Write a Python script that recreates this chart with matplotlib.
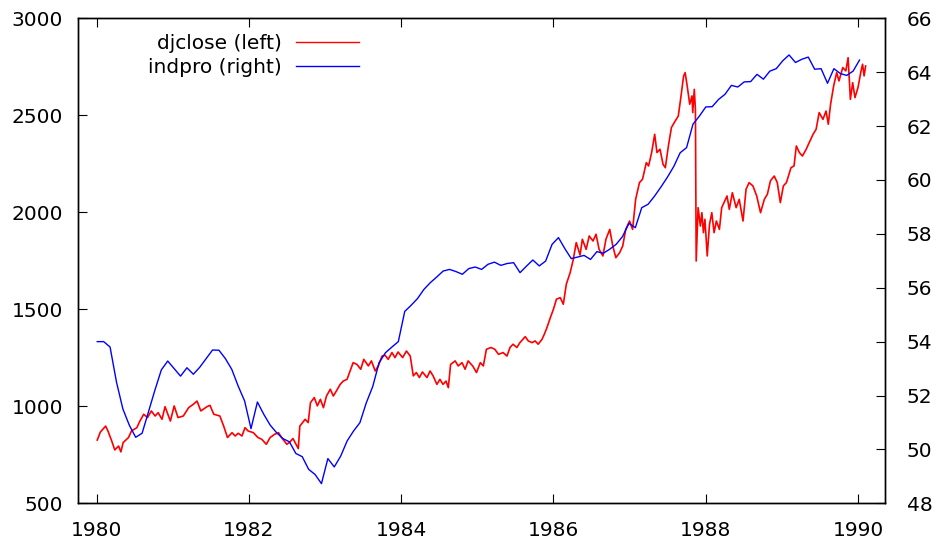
import matplotlib
matplotlib.use('Agg')
import matplotlib.pyplot as plt
import numpy as np

# ---- data ----
dj_year = [
    1980.01, 1980.05, 1980.12, 1980.15, 1980.20, 1980.24, 1980.29, 1980.32, 1980.35, 1980.42,
    1980.46, 1980.53, 1980.57, 1980.62, 1980.67, 1980.72, 1980.77, 1980.81, 1980.86, 1980.90,
    1980.97, 1981.02, 1981.07, 1981.14, 1981.21, 1981.27, 1981.32, 1981.37, 1981.45, 1981.49,
    1981.54, 1981.62, 1981.67, 1981.72, 1981.78, 1981.82, 1981.86, 1981.91, 1981.95, 1981.99,
    1982.06, 1982.12, 1982.17, 1982.23, 1982.28, 1982.34, 1982.39, 1982.43, 1982.50, 1982.54,
    1982.58, 1982.65, 1982.67, 1982.74, 1982.78, 1982.81, 1982.86, 1982.90, 1982.94, 1982.98,
    1983.02, 1983.07, 1983.11, 1983.15, 1983.20, 1983.24, 1983.29, 1983.33, 1983.37, 1983.42,
    1983.47, 1983.51, 1983.57, 1983.61, 1983.66, 1983.70, 1983.75, 1983.79, 1983.83, 1983.88,
    1983.92, 1983.96, 1984.02, 1984.07, 1984.12, 1984.16, 1984.20, 1984.24, 1984.28, 1984.34,
    1984.38, 1984.42, 1984.47, 1984.51, 1984.55, 1984.59, 1984.62, 1984.65, 1984.71, 1984.75,
    1984.80, 1984.84, 1984.88, 1984.94, 1984.99, 1985.04, 1985.08, 1985.12, 1985.18, 1985.23,
    1985.28, 1985.34, 1985.39, 1985.43, 1985.47, 1985.52, 1985.56, 1985.63, 1985.67, 1985.72,
    1985.76, 1985.80, 1985.85, 1985.88, 1985.91, 1985.96, 1986.00, 1986.04, 1986.09, 1986.13,
    1986.17, 1986.22, 1986.26, 1986.30, 1986.35, 1986.38, 1986.43, 1986.47, 1986.52, 1986.56,
    1986.60, 1986.65, 1986.69, 1986.74, 1986.78, 1986.82, 1986.87, 1986.91, 1986.95, 1987.00,
    1987.04, 1987.08, 1987.13, 1987.17, 1987.22, 1987.25, 1987.29, 1987.33, 1987.36, 1987.40,
    1987.44, 1987.47, 1987.51, 1987.55, 1987.60, 1987.64, 1987.67, 1987.71, 1987.73, 1987.76,
    1987.79, 1987.82, 1987.83, 1987.85, 1987.865, 1987.875, 1987.90, 1987.93, 1987.95, 1987.97,
    1987.99, 1988.02, 1988.05, 1988.08, 1988.11, 1988.14, 1988.18, 1988.21, 1988.24, 1988.28,
    1988.31, 1988.35, 1988.40, 1988.44, 1988.49, 1988.53, 1988.57, 1988.62, 1988.67, 1988.72,
    1988.77, 1988.81, 1988.85, 1988.90, 1988.94, 1988.98, 1989.02, 1989.06, 1989.12, 1989.16,
    1989.19, 1989.23, 1989.27, 1989.32, 1989.36, 1989.41, 1989.45, 1989.49, 1989.54, 1989.58,
    1989.61, 1989.64, 1989.68, 1989.72, 1989.75, 1989.80, 1989.84, 1989.87, 1989.90, 1989.93,
    1989.96, 1990.00, 1990.04, 1990.06, 1990.08, 1990.10,
]
dj_close = [
    826, 867, 898, 873, 821, 775, 795, 765, 813, 839,
    873, 890, 924, 959, 942, 976, 950, 967, 933, 998,
    924, 1002, 942, 950, 993, 1010, 1027, 976, 998, 1005,
    959, 950, 898, 839, 864, 847, 861, 847, 890, 873,
    864, 839, 830, 804, 839, 856, 864, 839, 804, 816,
    834, 782, 898, 933, 916, 1019, 1045, 1002, 1036, 993,
    1053, 1088, 1053, 1079, 1113, 1130, 1139, 1182, 1225, 1216,
    1191, 1242, 1208, 1234, 1182, 1208, 1259, 1263, 1242, 1277,
    1251, 1280, 1251, 1285, 1259, 1157, 1174, 1148, 1177, 1148,
    1182, 1157, 1113, 1139, 1113, 1130, 1096, 1216, 1234, 1208,
    1225, 1191, 1234, 1208, 1174, 1225, 1208, 1294, 1303, 1294,
    1268, 1277, 1259, 1303, 1320, 1303, 1328, 1359, 1337, 1328,
    1337, 1320, 1345, 1371, 1400, 1457, 1500, 1552, 1560, 1526,
    1630, 1689, 1755, 1844, 1780, 1861, 1809, 1878, 1852, 1887,
    1809, 1775, 1861, 1912, 1826, 1766, 1792, 1826, 1912, 1955,
    1912, 2067, 2153, 2170, 2256, 2239, 2308, 2402, 2308, 2325,
    2247, 2230, 2342, 2437, 2471, 2496, 2582, 2703, 2720, 2643,
    2557, 2600, 2514, 2634, 2531, 1749, 2024, 1929, 1998, 1895,
    1964, 1775, 1938, 1998, 1895, 1955, 1912, 2024, 2050, 2084,
    2015, 2101, 2024, 2067, 1955, 2119, 2153, 2136, 2084, 1998,
    2067, 2093, 2162, 2187, 2153, 2050, 2136, 2153, 2230, 2239,
    2342, 2308, 2290, 2325, 2360, 2402, 2428, 2514, 2479, 2522,
    2454, 2557, 2651, 2720, 2677, 2746, 2729, 2797, 2582, 2668,
    2591, 2643, 2729, 2763, 2703, 2754,
]

# monthly industrial production, Jan 1980 .. Dec 1989
indpro = [
    54.0, 54.0, 53.8, 52.5, 51.5, 50.9, 50.45, 50.6, 51.4, 52.2, 52.95, 53.28,
    53.0, 52.72, 53.03, 52.79, 53.05, 53.37, 53.69, 53.68, 53.37, 52.97, 52.35, 51.8,
    50.77, 51.76, 51.3, 50.9, 50.62, 50.4, 50.28, 49.85, 49.73, 49.26, 49.07, 48.73,
    49.66, 49.35, 49.75, 50.31, 50.68, 50.99, 51.73, 52.33, 53.22, 53.59, 53.8, 54.0,
    55.12, 55.35, 55.6, 55.94, 56.19, 56.4, 56.62, 56.68, 56.6, 56.5, 56.71, 56.77,
    56.68, 56.87, 56.95, 56.83, 56.9, 56.93, 56.56, 56.8, 57.03, 56.81, 56.99, 57.61,
    57.86, 57.45, 57.08, 57.14, 57.2, 57.05, 57.34, 57.28, 57.43, 57.61, 57.9, 58.39,
    58.23, 58.97, 59.1, 59.4, 59.74, 60.1, 60.5, 61.01, 61.2, 62.07, 62.37, 62.71,
    62.72, 62.99, 63.18, 63.51, 63.45, 63.64, 63.65, 63.92, 63.74, 64.04, 64.13, 64.42,
    64.64, 64.36, 64.48, 64.56, 64.11, 64.13, 63.59, 64.13, 63.95, 63.88, 64.04, 64.45,
]
indpro_year = np.linspace(1980.01, 1990.02, len(indpro))

year_ticks = [1980, 1982, 1984, 1986, 1988, 1990]
left_ticks = [500, 1000, 1500, 2000, 2500, 3000]
right_ticks = [48, 50, 52, 54, 56, 58, 60, 62, 64, 66]
labels = ['djclose (left)', 'indpro (right)']

plt.rcParams['font.family'] = ['DejaVu Sans']
FS = 14.5

fig = plt.figure(figsize=(9.38, 5.41), dpi=100)
ax = fig.add_axes([0.08348, 0.06969, 0.85981, 0.89649])
ax2 = ax.twinx()

l1, = ax.plot(dj_year, dj_close, color='#ff0000', lw=1.2)
l2, = ax2.plot(indpro_year, indpro, color='#0000ff', lw=1.0)

ax.set_xlim(1979.761, 1990.352)
ax.set_ylim(500, 3000)
ax2.set_ylim(48, 66)
ax.set_xticks(year_ticks)
ax.set_yticks(left_ticks)
ax2.set_yticks(right_ticks)

ax.tick_params(axis='x', direction='in', length=6.5, width=0.8, top=True, bottom=True,
               labelsize=FS, pad=12.5)
ax.tick_params(axis='y', direction='in', length=6.5, width=0.8, left=True, right=False,
               labelsize=FS, pad=10.8)
ax2.tick_params(axis='y', direction='in', length=6.5, width=0.8, left=False, right=True,
                labelsize=FS, pad=15.8)
for a in (ax, ax2):
    for sp in a.spines.values():
        sp.set_linewidth(1.0)

leg = ax2.legend([l1, l2], labels, loc='upper right', bbox_to_anchor=(0.3484, 0.9678),
                 frameon=False, markerfirst=False, fontsize=FS, handlelength=3.13,
                 handletextpad=0.7, labelspacing=0.25, borderpad=0, borderaxespad=0)
for h in leg.legend_handles:
    h.set_linewidth(1.0)

fig.savefig('out.png', dpi=100)
